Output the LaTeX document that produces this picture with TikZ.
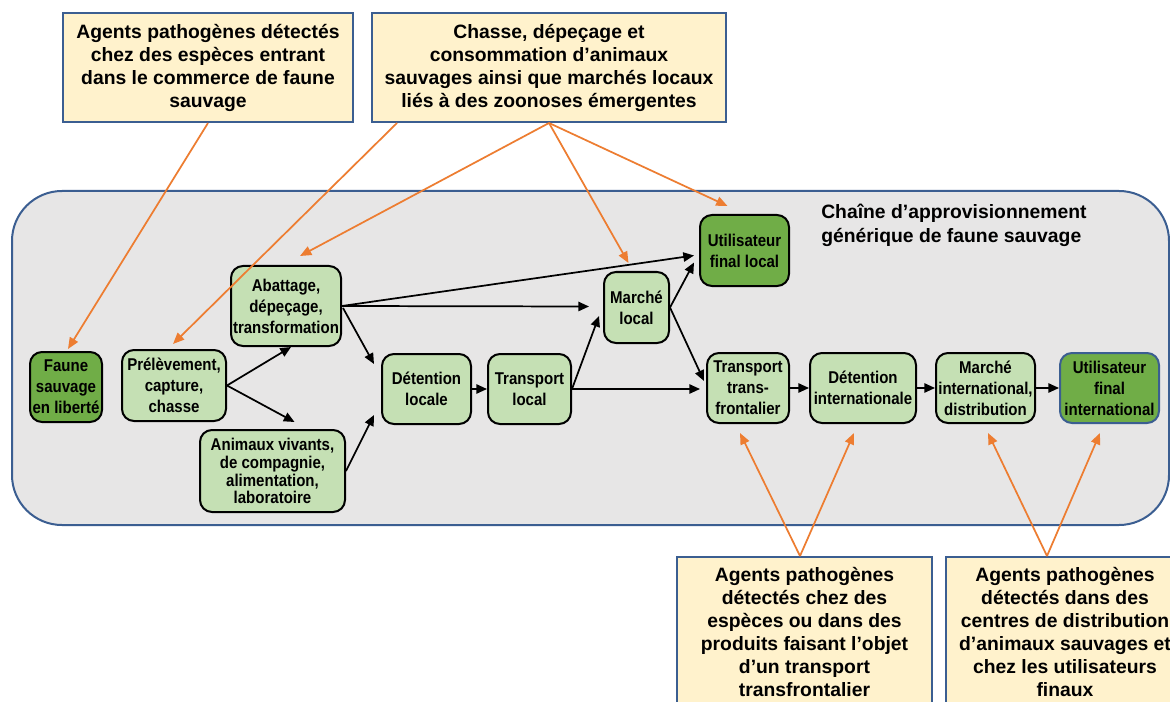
\documentclass[tikz,border=0pt]{standalone}
\usepackage{fontspec}
\setmainfont{Liberation Sans}
\newfontfamily\nodefont{Liberation Sans}[FakeStretch=0.88]
\usetikzlibrary{arrows.meta,calc}
\definecolor{lgreen}{HTML}{C5E0B4}
\definecolor{dgreen}{HTML}{70AD47}
\definecolor{lyellow}{HTML}{FFF2CC}
\definecolor{panelgray}{HTML}{E7E6E6}
\definecolor{borderblue}{HTML}{3B5E91}
\definecolor{orangeline}{HTML}{ED7D31}
\begin{document}
\begin{tikzpicture}[x=0.75pt,y=-0.75pt,
  sz/.style 2 args={minimum width=#1*0.75pt, minimum height=#2*0.75pt},
  gbox/.style={draw=black, line width=1.5pt, rounded corners=9pt, fill=lgreen,
    font=\nodefont\bfseries\fontsize{12.8}{15.75}\selectfont, align=center, inner sep=0pt},
  dbox/.style={gbox, fill=dgreen},
  ybox/.style={draw=borderblue, line width=1.5pt, fill=lyellow, align=center, inner sep=0pt,
    font=\bfseries\fontsize{14.5}{17.25}\selectfont},
  blk/.style={draw=black, line width=1.3pt, -{Triangle[length=8pt,width=7pt]}},
  org/.style={draw=orangeline, line width=1.3pt, -{Triangle[length=8.5pt,width=7pt]}}
]
\clip (0,0) rectangle (1170,702);
\fill[white] (0,0) rectangle (1170,702);

% panel
\draw[draw=borderblue, line width=1.5pt, fill=panelgray, rounded corners=37.5pt]
  (12,191) rectangle (1169,525);
\node[anchor=west, align=left, inner sep=0pt, font=\bfseries\fontsize{14.5}{18}\selectfont]
  (title) at (821,225) {Chaîne d’approvisionnement\\générique de faune sauvage};

% top and bottom annotation boxes
\node[ybox, sz={290}{109}] (box1) at (208,67.5)
  {Agents pathogènes détectés\\chez des espèces entrant\\dans le commerce de faune\\sauvage};
\node[ybox, sz={354}{109}] (box2) at (549,67.5)
  {Chasse, dépeçage et\\consommation d’animaux\\sauvages ainsi que marchés locaux\\liés à des zoonoses émergentes};
\node[ybox, sz={255}{150}] (box3) at (804.5,632)
  {Agents pathogènes\\détectés chez des\\espèces ou dans des\\produits faisant l’objet\\d’un transport\\transfrontalier};
\node[ybox, sz={238}{150}] (box4) at (1065,632)
  {Agents pathogènes\\détectés dans des\\centres de distribution\\d’animaux sauvages et\\chez les utilisateurs\\finaux};

% chain nodes
\node[dbox, sz={72}{70}] (faune) at (66,387) {Faune\\sauvage\\en liberté};
\node[gbox, sz={104}{71}] (prel) at (174,385.5) {Prélèvement,\\capture,\\chasse};
\node[gbox, sz={110}{80}] (abat) at (286,306) {Abattage,\\dépeçage,\\transformation};
\node[gbox, sz={145}{82}, font=\nodefont\bfseries\fontsize{12.8}{13.4}\selectfont] (anim) at (272.5,471)
  {Animaux vivants,\\de compagnie,\\alimentation,\\laboratoire};
\node[gbox, sz={89}{70}] (detl) at (426.5,389) {Détention\\locale};
\node[gbox, sz={83}{70}] (trl) at (529.5,389) {Transport\\local};
\node[gbox, sz={65}{71}] (marl) at (636.5,307.5) {Marché\\local};
\node[dbox, sz={89}{71}] (ufl) at (744.5,250.5) {Utilisateur\\final local};
\node[gbox, sz={82}{70}] (trf) at (748,388) {Transport\\trans-\\frontalier};
\node[gbox, sz={106}{70}] (deti) at (863,388) {Détention\\internationale};
\node[gbox, sz={99}{70}] (mari) at (985.5,388) {Marché\\international,\\distribution};
\node[dbox, sz={99}{70}, draw=borderblue] (ufi) at (1109.5,388) {Utilisateur\\final\\international};

% black flow arrows
\draw[blk] (prel.east) -- ($(abat.south)+(5,0)$);
\draw[blk] (prel.east) -- ($(anim.north)+(22,-7)$);
\draw[blk] (abat.east) -- ($(marl.west)+(-14,-1)$);
\draw[blk] (abat.east) -- ($(ufl.west)+(-5,5)$);
\draw[blk] ($(abat.east)+(1,2)$) -- ($(detl.north west)+(-7,11)$);
\draw[blk] (anim.east) -- ($(detl.south west)+(-7,-10)$);
\draw[blk] (detl.east) -- (trl.west);
\draw[blk] (trl.east) -- ($(marl.south west)+(-4,-28)$);
\draw[blk] (trl.east) -- ($(trf.west)+(-6,1)$);
\draw[blk] (marl.east) -- ($(ufl.west)+(-5,12)$);
\draw[blk] (marl.east) -- ($(trf.west)+(-2,-7)$);
\draw[blk] (trf.east) -- (deti.west);
\draw[blk] (deti.east) -- (mari.west);
\draw[blk] (mari.east) -- (ufi.west);

% orange annotation arrows
\draw[org] (box1.south) -- ($(faune.north)+(2,-2)$);
\draw[org] ($(box2.south west)+(26,0)$) -- ($(prel.north)+(-1,-5)$);
\draw[org] (box2.south) -- ($(abat.north)+(14,-9)$);
\draw[org] (box2.south) -- ($(marl.north)+(-8,-8)$);
\draw[org] (box2.south) -- ($(ufl.north)+(-17,-8)$);
\draw[org] ($(box3.north)+(-4.5,0)$) -- ($(trf.south)+(-8,9)$);
\draw[org] ($(box3.north)+(-4.5,0)$) -- ($(deti.south)+(-9,9)$);
\draw[org] ($(box4.north)+(-18,0)$) -- ($(mari.south)+(2.5,9)$);
\draw[org] ($(box4.north)+(-18,0)$) -- ($(ufi.south)+(-9.5,9)$);
\end{tikzpicture}
\end{document}
